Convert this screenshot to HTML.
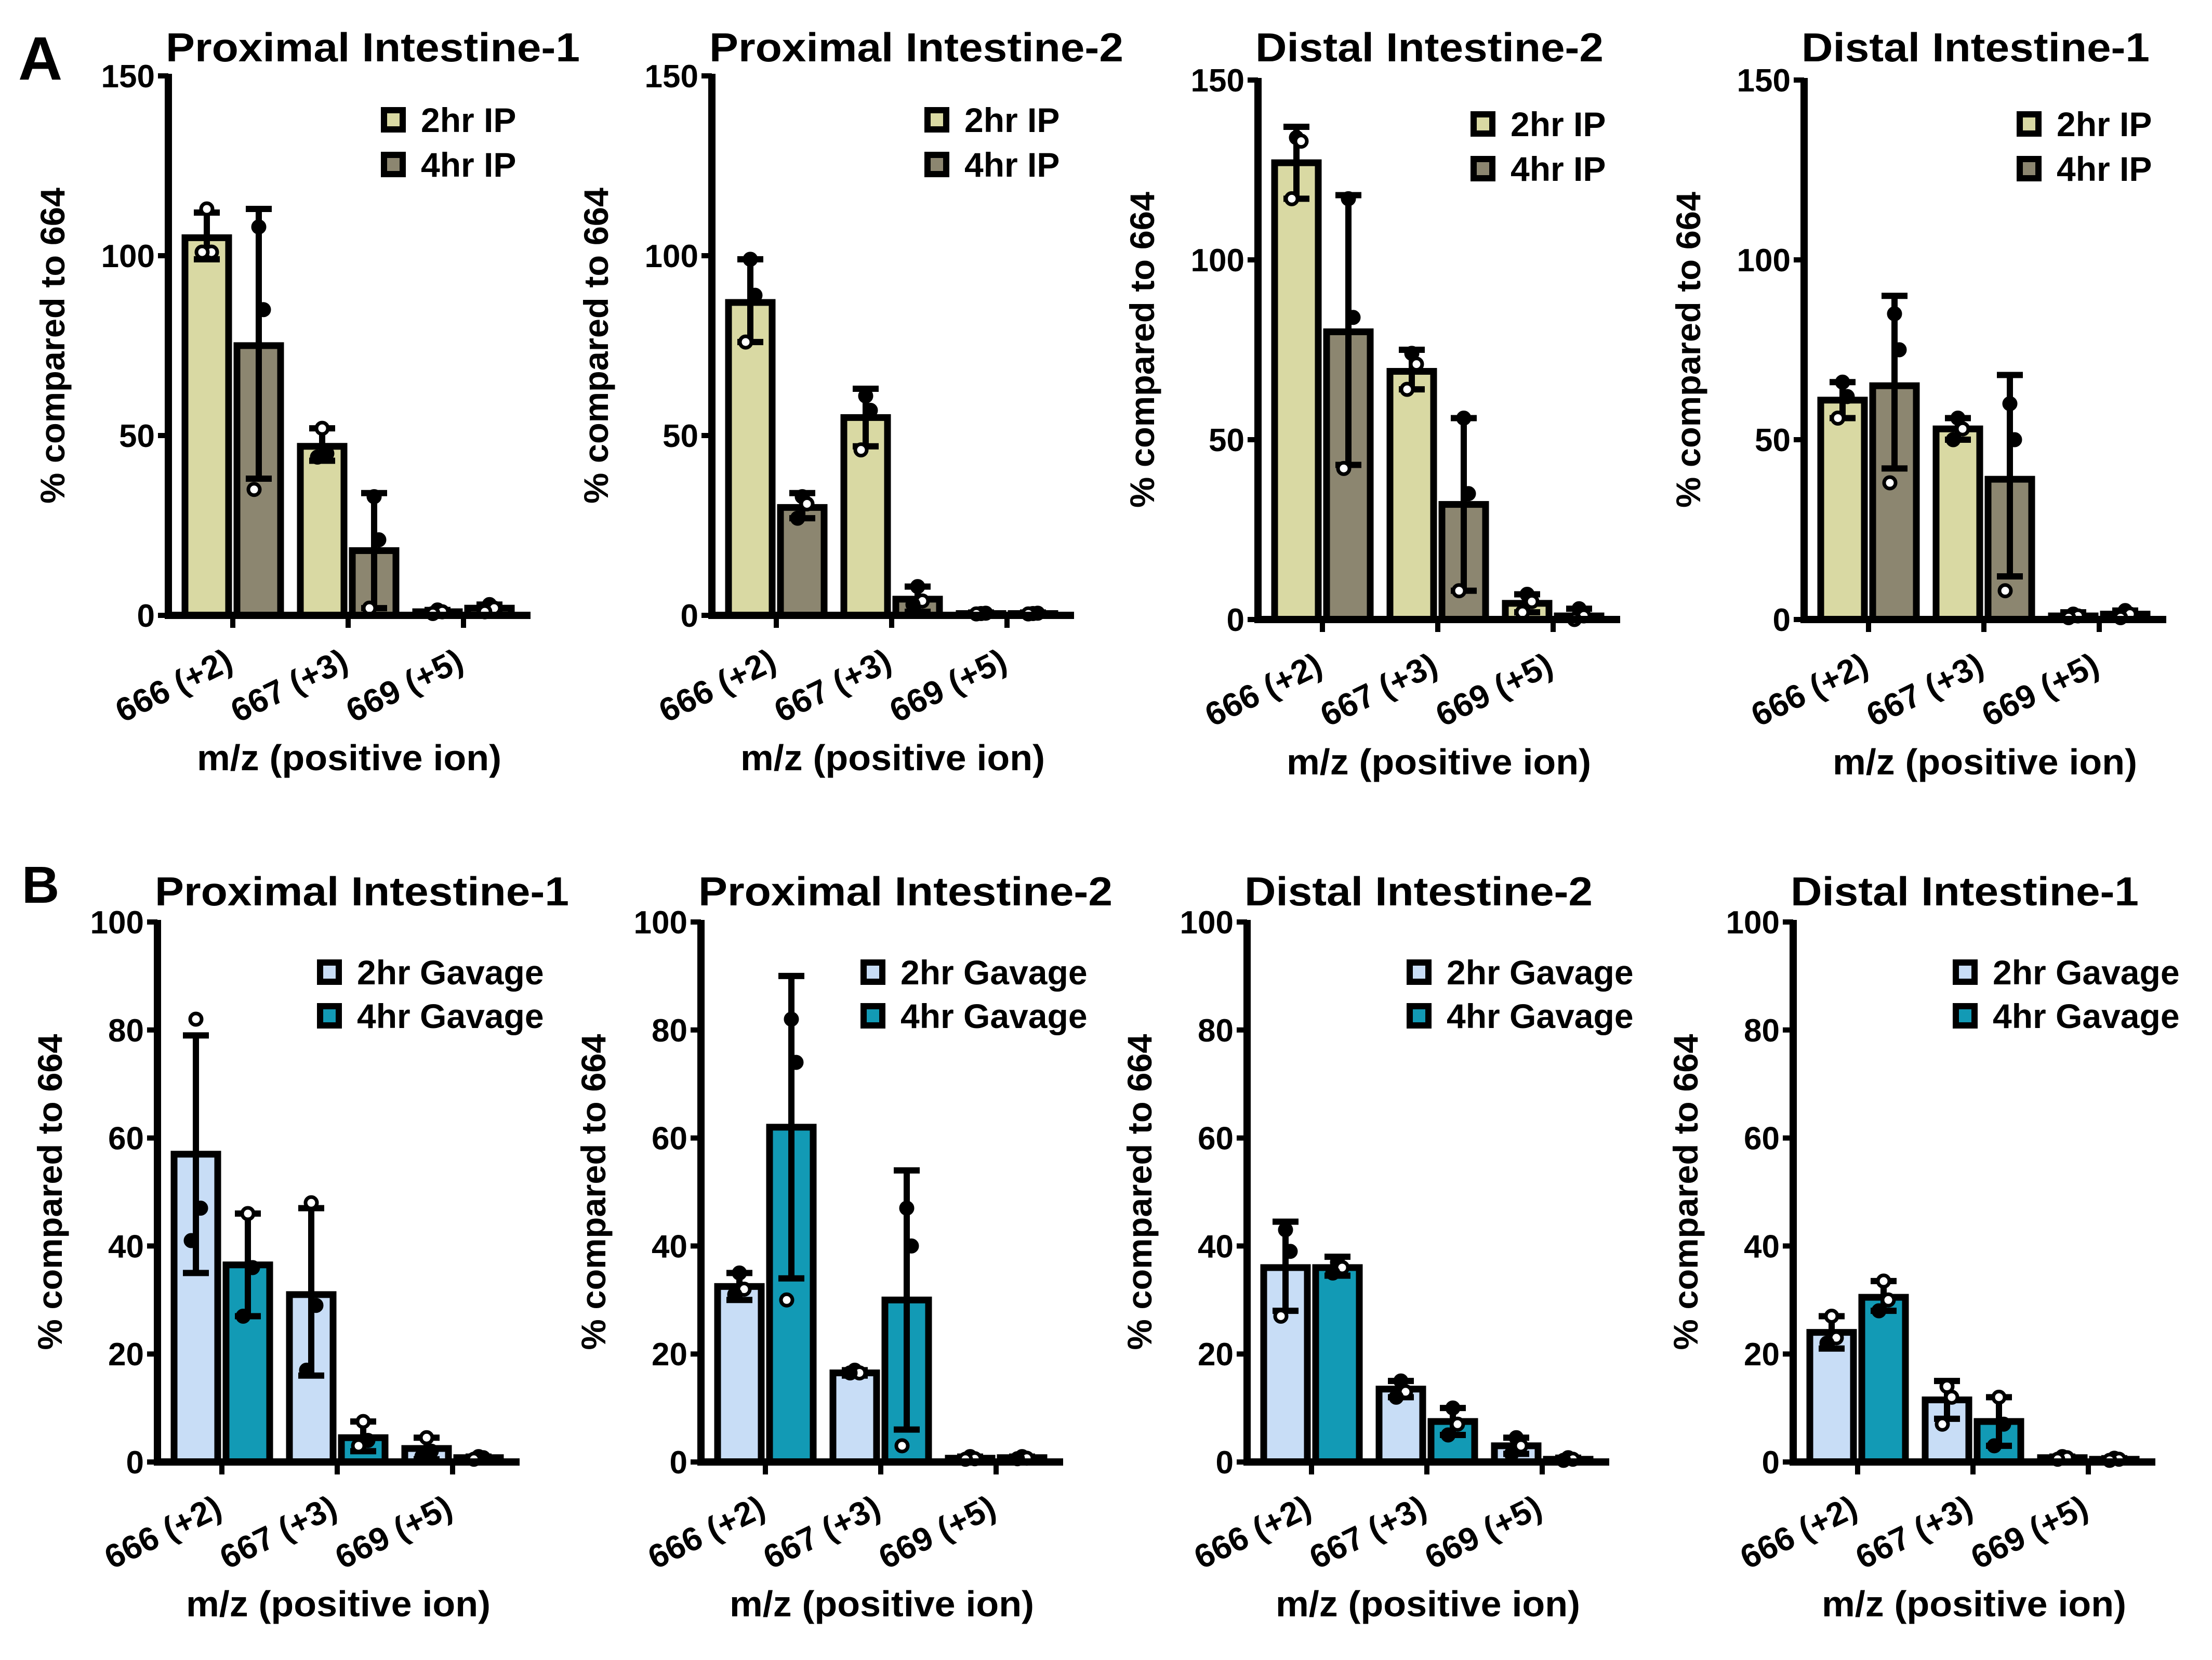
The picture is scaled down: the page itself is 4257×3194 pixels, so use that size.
<!DOCTYPE html>
<html><head><meta charset="utf-8"><style>
html,body{margin:0;padding:0;background:#fff}
svg text{font-family:"Liberation Sans",Arial,sans-serif;font-weight:bold;fill:#000}
</style></head><body>
<svg id="fig" xmlns="http://www.w3.org/2000/svg" width="4257" height="3189" viewBox="0 0 4257 3189">
<rect width="4257" height="3189" fill="#fff"/>
<text x="35" y="153" font-size="118">A</text>
<text x="42" y="1737" font-size="100">B</text>
</svg>
<script>
const categories = ["666 (+2)", "667 (+3)", "669 (+5)"];
const titles = ["Proximal Intestine-1", "Proximal Intestine-2", "Distal Intestine-2", "Distal Intestine-1"];
const seriesA = ["2hr IP", "4hr IP"];
const seriesB = ["2hr Gavage", "4hr Gavage"];
const ticksA = [0, 50, 100, 150];
const ticksB = [0, 20, 40, 60, 80, 100];
const rowA_means = [
 [[105, 75], [47, 18], [1, 2]],
 [[87, 30], [55, 4.5], [0.5, 0.5]],
 [[127, 80], [69, 32], [4.5, 1]],
 [[61, 65], [53, 39], [1, 1.5]]
];
const rowA_err = [
 [[[99,112],[38,113]], [[43,52],[2,34]], [[0.5,1.5],[1,3]]],
 [[[76,99],[27,34]], [[47,63],[1,8]], [[0.3,0.8],[0.3,0.8]]],
 [[[117,137],[43,118]], [[64,75],[8,56]], [[2,7],[0,3]]],
 [[[56,66],[42,90]], [[50,56],[12,68]], [[0.5,2],[0.5,2.5]]]
];
const rowA_pts = [
 [[[113,0],[101,0],[101,0]],[[108,1],[85,1],[35,0]]], [[[52,0],[45,1],[44,1]],[[33,1],[21,1],[2,0]]], [[[1.5,1],[1,0],[0.5,0]],[[3,1],[2,0],[1,0]]],
 [[[99,1],[89,1],[76,0]],[[33,1],[31,0],[27,1]]], [[[61,1],[57,1],[46,0]],[[8,1],[4,0],[3,1]]], [[[0.5,1],[0.6,1],[0.4,0]],[[0.5,1],[0.6,1],[0.4,0]]],
 [[[134,1],[133,0],[117,0]],[[117,1],[84,1],[42,0]]], [[[74,1],[71,0],[64,0]],[[56,1],[35,1],[8,0]]], [[[7,1],[5,0],[2,0]],[[3,1],[1,0],[0,0]]],
 [[[66,1],[62,1],[56,0]],[[85,1],[75,1],[38,0]]], [[[56,1],[53,0],[50,1]],[[60,1],[50,1],[8,0]]], [[[1.5,1],[1,0],[0.5,0]],[[2.5,1],[1.5,0],[0.5,0]]]
];
const rowB_means = [
 [[57, 36.5], [31, 4.5], [2.5, 0.8]],
 [[32.5, 62], [16.5, 30], [0.7, 0.8]],
 [[36, 36], [13.5, 7.5], [3, 0.5]],
 [[24, 30.5], [11.5, 7.5], [0.8, 0.5]]
];
const rowB_err = [
 [[[35,79],[27,46]], [[16,47],[2,7.5]], [[0.5,4.5],[0.5,1]]],
 [[[30,35],[34,90]], [[16,17],[6,54]], [[0.5,1],[0.5,1]]],
 [[[28,44.5],[34.5,38]], [[12,15],[5,10]], [[1.5,4.5],[0.3,0.8]]],
 [[[21,27],[28,33.5]], [[8,15],[3,12]], [[0.5,1],[0.3,0.7]]]
];
const rowB_pts = [
 [[[82,0],[47,1],[41,1]],[[46,0],[36,1],[27,1]]], [[[48,0],[29,1],[17,1]],[[7.5,0],[4,1],[3,0]]], [[[4.5,0],[2,1],[1,1]],[[1,0],[0.8,1],[0.5,0]]],
 [[[35,1],[32,0],[31,1]],[[82,1],[74,1],[30,0]]], [[[17,1],[16.5,0],[16.5,1]],[[47,1],[40,1],[3,0]]], [[[1,1],[0.6,0],[0.5,0]],[[1,1],[0.7,0],[0.6,1]]],
 [[[43,1],[39,1],[27,0]],[[37,1],[36,0],[35,1]]], [[[15,1],[13,0],[12,1]],[[10,1],[7,0],[5,1]]], [[[4.5,1],[3,0],[1.5,1]],[[0.8,1],[0.5,0],[0.3,1]]],
 [[[27,0],[23,0],[22,1]],[[33.5,0],[30,0],[28,1]]], [[[14,0],[12,0],[7,0]],[[12,0],[7,1],[3,1]]], [[[1,1],[0.8,0],[0.5,0]],[[0.7,1],[0.5,0],[0.3,0]]]
];

const NS = "http://www.w3.org/2000/svg";
const svg = document.getElementById("fig");
function mk(tag, attrs, parent, text) {
  const e = document.createElementNS(NS, tag);
  for (const k in attrs) e.setAttribute(k, attrs[k]);
  if (text !== undefined) e.textContent = text;
  (parent || svg).appendChild(e);
  return e;
}
const offsets = [0, 1046, 2097, 3148];
function panel(row, p) {
  const isA = row === 0;
  const ax = (isA ? 324 : 303) + offsets[p];
  const shift = isA && p >= 2 ? 8 : 0;
  const y0 = (isA ? 1184 : 2813) + shift;
  const ytop = (isA ? 146 : 1774) + shift;
  const ymax = isA ? 150 : 100;
  const Y = v => y0 - (v / ymax) * (y0 - ytop);
  const gx = i => ax + 124 + 222 * i;
  const bw = 96;
  const cols = isA ? ["#d9d9a3", "#8c8670"] : ["#c8ddf6", "#129ab5"];
  const means = isA ? rowA_means[p] : rowB_means[p];
  const errs = isA ? rowA_err[p] : rowB_err[p];
  const pts = isA ? rowA_pts : rowB_pts;
  const ser = isA ? seriesA : seriesB;
  const g = mk("g", {});
  
  
  const tt = mk("text", {x: ax - 5, y: isA ? 118 : 1742, "font-size": 78, textLength: p < 2 ? 797 : 670, lengthAdjust: "spacingAndGlyphs"}, g, titles[p]);
  
  
  for (let i = 0; i < 3; i++) {
    for (let s = 0; s < 2; s++) {
      const xl = s === 0 ? gx(i) - bw - 2 : gx(i) + 2;
      const m = means[i][s];
      const r = mk("rect", {x: xl + 6, y: Y(m), width: bw - 12, height: Math.max(0, y0 - Y(m)), fill: cols[s], stroke: "#000", "stroke-width": 13}, g);
      
      
      const cx = xl + bw / 2;
      const [lo, hi] = errs[i][s];
      const eb = mk("g", {stroke: "#000", "stroke-width": 12}, g);
      
      
      mk("line", {x1: cx, x2: cx, y1: Y(lo), y2: Y(hi)}, eb);
      mk("line", {x1: cx - 25, x2: cx + 25, y1: Y(lo), y2: Y(lo)}, eb);
      mk("line", {x1: cx - 25, x2: cx + 25, y1: Y(hi), y2: Y(hi)}, eb);
      const pp = pts[p * 3 + i][s];
      pp.forEach((q, k) => {
        const c = mk("circle", {cx: cx + (k === 1 ? 9 : k === 2 ? -9 : 0), cy: Y(q[0]), r: 11, fill: q[1] ? "#000" : "#fff", stroke: "#000", "stroke-width": 7}, g);
        
        
      });
    }
  }
  const axg = mk("g", {stroke: "#000", "stroke-width": 14}, g);
  
  
  mk("line", {x1: ax, x2: ax, y1: ytop - 4, y2: y0 + 7}, axg);
  mk("line", {x1: ax - 7, x2: ax + 697, y1: y0, y2: y0}, axg);
  for (let i = 0; i < 3; i++) mk("line", {x1: gx(i), x2: gx(i), y1: y0, y2: y0 + 24, "stroke-width": 10}, axg);
  const ticks = isA ? ticksA : ticksB;
  ticks.forEach(t => {
    mk("line", {x1: ax - 20, x2: ax, y1: Y(t), y2: Y(t), "stroke-width": 10}, axg);
    const tl = mk("text", {x: ax - 26, y: Y(t) + 22, "font-size": 62, "text-anchor": "end"}, g, String(t));
    
    
  });
  categories.forEach((c, i) => {
    const tx = gx(i) + 4, ty = y0 + 102;
    const tl = mk("text", {x: tx, y: ty, "font-size": 64, "text-anchor": "end", transform: `rotate(-26 ${tx} ${ty})`}, g, c);
    
    
  });
  const yc = (ytop + y0) / 2;
  const ytx = ax - (isA ? 200 : 184);
  const yt = mk("text", {x: ytx, y: yc, "font-size": 66, "text-anchor": "middle", textLength: 608, lengthAdjust: "spacingAndGlyphs", transform: `rotate(-90 ${ytx} ${yc})`}, g, "% compared to 664");
  
  
  const xt = mk("text", {x: ax + 348, y: isA ? 1482 + shift : 3110, "font-size": 70, "text-anchor": "middle", textLength: 586, lengthAdjust: "spacingAndGlyphs"}, g, "m/z (positive ion)");
  
  
  const lx = ax + (isA ? 409 : 307);
  const ly = isA ? 206 + shift : 1846;
  ser.forEach((s, k) => {
    const yy = ly + k * (isA ? 86 : 84);
    const le = mk("g", {}, g);
    
    
    mk("rect", {x: lx + 6, y: yy + 6, width: 36, height: 37, fill: cols[k], stroke: "#000", "stroke-width": 12}, le);
    mk("text", {x: lx + 77, y: yy + 48, "font-size": 66}, le, s);
  });
}
for (let r = 0; r < 2; r++) for (let p = 0; p < 4; p++) panel(r, p);
</script>
</body></html>
